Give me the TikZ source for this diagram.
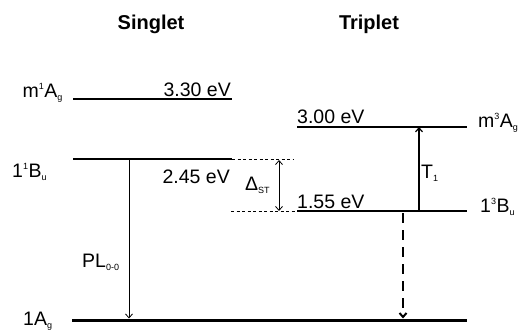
\documentclass[tikz,border=0pt]{standalone}
\usepackage{fontspec}
\setmainfont{Liberation Sans}
\usetikzlibrary{arrows.meta, positioning}
\newcommand{\upidx}[1]{\textsuperscript{\fontsize{9pt}{9pt}\selectfont #1}}
\newcommand{\dnidx}[1]{\textsubscript{\fontsize{9pt}{9pt}\selectfont #1}}
\tikzset{
    level/.style={line width=1.4pt},
    ground/.style={line width=3pt},
    guide/.style={line width=0.6pt, dash pattern=on 3pt off 2.5pt},
    transition/.style={-{Straight Barb[length=4pt, width=7pt]}, line width=0.8pt},
    excite/.style={-{Straight Barb[length=4pt, width=7pt]}, line width=1.2pt},
    gap/.style={{Straight Barb[length=4pt, width=7pt]}-{Straight Barb[length=4pt, width=7pt]}, line width=0.8pt},
    nonrad/.style={-{Straight Barb[length=4pt, width=7pt]}, line width=2pt, dash pattern=on 10pt off 7pt},
    state/.style={font=\fontsize{19.5pt}{21pt}\selectfont, inner sep=0pt},
    title/.style={font=\fontsize{20pt}{22pt}\selectfont\bfseries, inner sep=0pt}
}
\begin{document}
\begin{tikzpicture}[x=1pt, y=-1pt]
    \useasboundingbox (0,0) rectangle (524,329);

    % level end points
    \coordinate (m1a-w) at (73,99);
    \coordinate (m1a-e) at (232,99);
    \coordinate (b1s-w) at (73,159);
    \coordinate (b1s-e) at (232,159);
    \coordinate (m3a-w) at (297,127);
    \coordinate (m3a-e) at (467,127);
    \coordinate (b3t-w) at (297,211);
    \coordinate (b3t-e) at (467,211);
    \coordinate (gnd-w) at (72,320);
    \coordinate (gnd-e) at (467,320);
    \coordinate (b1s-x) at (293,159);
    \coordinate (b3t-x) at (231,211);

    % arrow end points
    \coordinate (pl-a) at (129,159);
    \coordinate (pl-b) at (129,320);
    \coordinate (t1-a) at (419,211);
    \coordinate (t1-b) at (419,127);
    \coordinate (st-a) at (279,160);
    \coordinate (st-b) at (279,211);
    \coordinate (nr-a) at (403,213);
    \coordinate (nr-b) at (403,320);

    \node[title, anchor=base] (singlet) at (151,30) {Singlet};
    \node[title, anchor=base] (triplet) at (369,30) {Triplet};

    \draw[level] (m1a-w) -- (m1a-e);
    \draw[level] (b1s-w) -- (b1s-e);
    \draw[level] (m3a-w) -- (m3a-e);
    \draw[level] (b3t-w) -- (b3t-e);
    \draw[ground] (gnd-w) -- (gnd-e);
    \draw[guide] (b1s-e) -- (b1s-x);
    \draw[guide] (b3t-x) -- (b3t-w);

    \node[state, anchor=base east] (m1a-lbl) at (63,97) {m\upidx{1}A\dnidx{g}};
    \node[state, anchor=base east] (m1a-en) at (231,96) {3.30 eV};
    \node[state, anchor=base west] (b1s-lbl) at (12,177) {1\upidx{1}B\dnidx{u}};
    \node[state, anchor=base east] (b1s-en) at (230,183) {2.45 eV};
    \node[state, anchor=base west] (m3a-en) at (297,123) {3.00 eV};
    \node[state, anchor=base west] (m3a-lbl) at (478,127) {m\upidx{3}A\dnidx{g}};
    \node[state, anchor=base west] (b3t-en) at (297,208) {1.55 eV};
    \node[state, anchor=base west] (b3t-lbl) at (480,212) {1\upidx{3}B\dnidx{u}};
    \node[state, anchor=base west] (gnd-lbl) at (23,325) {1A\dnidx{g}};

    \draw[transition, shorten >=1.5pt] (pl-a) -- (pl-b);
    \draw[excite] (t1-a) -- (t1-b);
    \draw[gap] (st-a) -- (st-b);
    \draw[nonrad, shorten >=1.5pt] (nr-a) -- (nr-b);

    \node[state, anchor=base west] (pl-lbl) at (82,267) {PL\dnidx{0-0}};
    \node[state, anchor=base west] (t1-lbl) at (421,178) {T\dnidx{1}};
    \node[state, anchor=base west] (st-lbl) at (245,190) {Δ\dnidx{ST}};
\end{tikzpicture}
\end{document}
